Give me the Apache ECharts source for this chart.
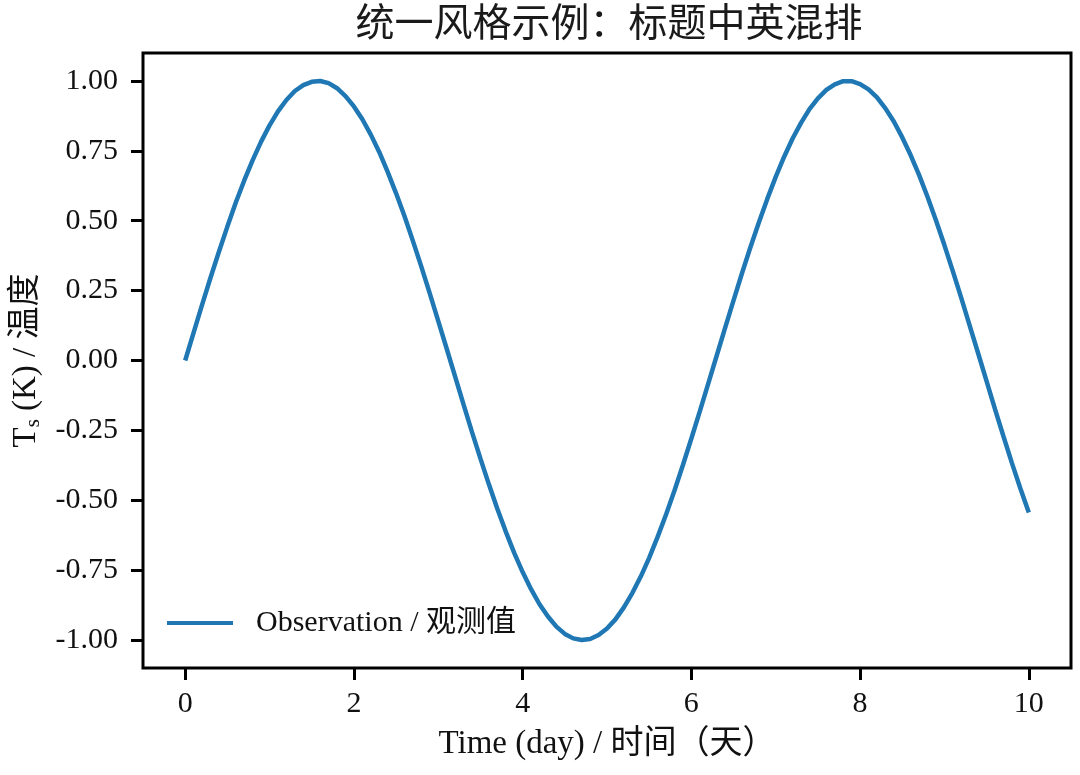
<!DOCTYPE html>
<html>
<head>
<meta charset="utf-8">
<script src="https://cdn.jsdelivr.net/npm/echarts@6/dist/echarts.min.js"></script>
<style>html,body{margin:0;padding:0;background:#fff}#c{width:1080px;height:775px}</style>
</head>
<body>
<div id="c"></div>
<script>
const xValues = [0,0.1,0.2,0.3,0.4,0.5,0.6,0.7,0.8,0.9,1.0,1.1,1.2,1.3,1.4,1.5,1.6,1.7,1.8,1.9,2.0,2.1,2.2,2.3,2.4,2.5,2.6,2.7,2.8,2.9,3.0,3.1,3.2,3.3,3.4,3.5,3.6,3.7,3.8,3.9,4.0,4.1,4.2,4.3,4.4,4.5,4.6,4.7,4.8,4.9,5.0,5.1,5.2,5.3,5.4,5.5,5.6,5.7,5.8,5.9,6.0,6.1,6.2,6.3,6.4,6.5,6.6,6.7,6.8,6.9,7.0,7.1,7.2,7.3,7.4,7.5,7.6,7.7,7.8,7.9,8.0,8.1,8.2,8.3,8.4,8.5,8.6,8.7,8.8,8.9,9.0,9.1,9.2,9.3,9.4,9.5,9.6,9.7,9.8,9.9,10.0];
const yValues = [0,0.100,0.199,0.296,0.389,0.479,0.565,0.644,0.717,0.783,0.841,0.891,0.932,0.964,0.985,0.997,1.000,0.992,0.974,0.946,0.909,0.863,0.808,0.746,0.675,0.598,0.516,0.427,0.335,0.239,0.141,0.042,-0.058,-0.158,-0.256,-0.351,-0.443,-0.530,-0.612,-0.688,-0.757,-0.818,-0.872,-0.916,-0.952,-0.978,-0.994,-1.000,-0.996,-0.982,-0.959,-0.926,-0.883,-0.832,-0.773,-0.706,-0.631,-0.551,-0.465,-0.374,-0.279,-0.182,-0.083,0.017,0.117,0.215,0.312,0.405,0.494,0.578,0.657,0.729,0.794,0.850,0.899,0.938,0.968,0.988,0.999,0.999,0.989,0.970,0.941,0.902,0.855,0.798,0.734,0.663,0.585,0.501,0.412,0.319,0.223,0.124,0.025,-0.075,-0.175,-0.272,-0.367,-0.458,-0.544];
const xTicks = [0,2,4,6,8,10];
const yTicks = [-1.0,-0.75,-0.5,-0.25,0,0.25,0.5,0.75,1.0];
const seriesName = 'Observation / 观测值';
const titleText = '统一风格示例：标题中英混排';
const xName = 'Time (day) / 时间（天）';

const FONT = "'Liberation Serif','Noto Sans CJK SC',serif";
const chart = echarts.init(document.getElementById('c'));
chart.setOption({
  animation: false,
  backgroundColor: '#fff',
  textStyle: { fontFamily: FONT },
  title: {
    text: titleText, left: 604, textAlign: 'center', top: 1,
    textStyle: { fontFamily: FONT, fontSize: 39, fontWeight: 'normal', color: '#1a1a1a' }
  },
  grid: { left: 143, right: 9, top: 53, bottom: 107, show: true, borderColor: '#000', borderWidth: 3, backgroundColor: 'transparent' },
  legend: {
    left: 162, top: 603, icon: 'rect', itemWidth: 66, itemHeight: 4,
    textStyle: { fontFamily: FONT, fontSize: 30, color: '#111', padding: [0,0,0,18] },
    data: [seriesName]
  },
  xAxis: {
    type: 'value', min: -0.5, max: 10.5,
    axisLine: { show: false, onZero: false },
    splitLine: { show: false },
    axisTick: { show: true, inside: false, length: 12, lineStyle: { color: '#000', width: 3 }, customValues: xTicks },
    axisLabel: { customValues: xTicks, margin: 21, fontSize: 30, color: '#111', fontFamily: FONT },
    name: xName, nameLocation: 'middle', nameGap: 60,
    nameTextStyle: { fontFamily: FONT, fontSize: 33, color: '#111' }
  },
  yAxis: {
    type: 'value', min: -1.1, max: 1.1,
    axisLine: { show: false, onZero: false },
    splitLine: { show: false },
    axisTick: { show: true, inside: false, length: 12, lineStyle: { color: '#000', width: 3 }, customValues: yTicks },
    axisLabel: { customValues: yTicks, margin: 25, fontSize: 30, color: '#111', fontFamily: FONT,
      formatter: v => v.toFixed(2) },
    name: '{t|T}{s|s}{t| (K) / 温度}', nameLocation: 'middle', nameGap: 99, nameRotate: 90,
    nameTextStyle: { fontFamily: FONT, fontSize: 33, color: '#111',
      rich: {
        t: { fontFamily: FONT, fontSize: 33, color: '#111', lineHeight: 35 },
        s: { fontFamily: FONT, fontSize: 21, color: '#111', verticalAlign: 'bottom', lineHeight: 35 }
      } }
  },
  series: [{
    name: seriesName, type: 'line', smooth: false, showSymbol: false,
    data: xValues.map((x, i) => [x, yValues[i]]),
    lineStyle: { color: '#1f77b4', width: 4.5 },
    itemStyle: { color: '#1f77b4' }
  }]
});
</script>
</body>
</html>
